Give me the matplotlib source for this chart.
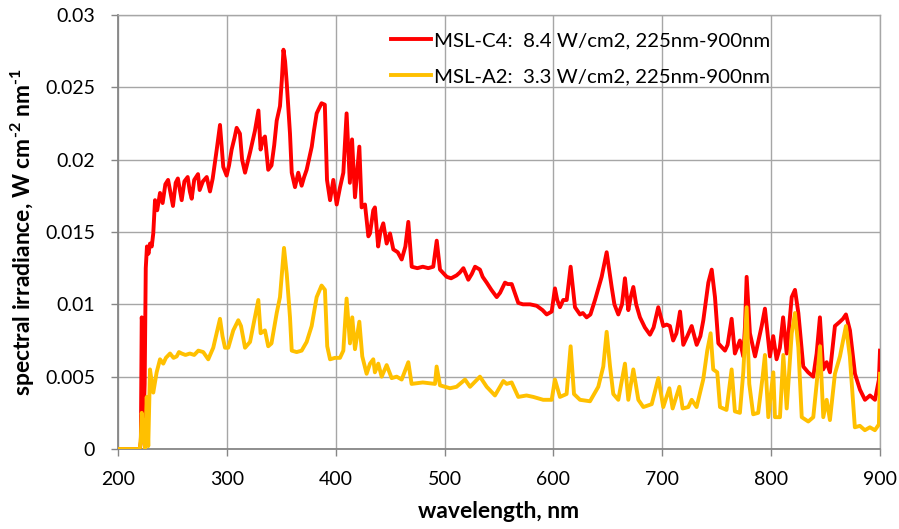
import matplotlib
matplotlib.use('Agg')
import matplotlib.pyplot as plt
import matplotlib.ticker as ticker

# ---------------------------------------------------------------------------
# Data
# ---------------------------------------------------------------------------
wl_c4 = [200, 220, 221, 221.8, 222.5, 223.5, 224.5, 225.5, 226.6, 228, 229.4, 231, 232.4, 234, 236,
         238.6, 241, 243.5, 246, 248, 250.5, 253, 255, 258.5, 261, 264, 266, 267.7, 270, 273.5,
         275, 278, 281.5, 284.5, 287, 290.7, 293.7, 296.7, 299.8, 302, 304.4, 307, 309, 312, 314,
         316.7, 319, 321.3, 325.8, 329, 331, 333, 335, 338, 341, 343.5, 345.8, 348.8, 350.5, 352,
         353.5, 355, 358, 359.6, 362.6, 365.6, 368.7, 371, 373.3, 378, 380, 382.5, 385, 387, 390,
         392, 394.8, 397.8, 400.9, 404, 407, 410, 413, 415, 417.7, 421.7, 423.8, 426.9, 430, 431.5,
         434.5, 436, 439, 441, 443.7, 446.8, 449.9, 452.9, 457, 460.6, 464, 466.7, 469.8, 475, 480,
         485, 489.6, 492.8, 495.8, 502, 506, 511, 514, 517.3, 521.8, 525, 528, 532.5, 535, 538.7,
         543, 547.9, 551, 555.5, 558, 561.7, 567.7, 572, 578.5, 584.6, 590, 593.8, 598.4, 601.4,
         603.5, 606, 609, 612.2, 615.8, 619.8, 624.4, 627, 630.5, 634, 638.2, 644.3, 648.9, 653.5,
         656, 659.6, 663, 665.7, 668.8, 671, 673.4, 676, 679.5, 684, 688.7, 692, 696.3, 700.9, 704,
         707, 710, 713, 716.3, 719.3, 723, 727, 731.6, 735, 737.7, 742.3, 745.4, 748.4, 751.5,
         757.6, 760, 763.7, 766.7, 771.3, 774.4, 776, 777.5, 780.5, 785.2, 791.3, 794.3, 798.9,
         801.9, 805, 808, 811, 814.3, 818.9, 821.9, 825, 829.5, 834, 838.7, 841.8, 844.8, 847.8,
         851, 854, 858.6, 863.2, 866, 868.7, 872.4, 877, 881.6, 886.2, 890.8, 895.4, 899, 900]
irr_c4 = [0, 0, 0.0005, 0.0091, 0.0085, 0.002, 0.0045, 0.0125, 0.014, 0.0135, 0.0142, 0.014, 0.0149,
          0.0172, 0.0165, 0.0177, 0.0170, 0.0183, 0.0186, 0.0178, 0.0168, 0.0184, 0.0187, 0.0172,
          0.0185, 0.0188, 0.0178, 0.0173, 0.0186, 0.0190, 0.0179, 0.0185, 0.0188, 0.0178, 0.0187,
          0.0207, 0.0224, 0.0195, 0.0189, 0.0196, 0.0207, 0.0215, 0.0222, 0.0218, 0.0200, 0.0191,
          0.0198, 0.0205, 0.0220, 0.0234, 0.0207, 0.0214, 0.0216, 0.0193, 0.0196, 0.0210, 0.0227,
          0.0237, 0.0255, 0.0276, 0.0268, 0.0253, 0.0218, 0.0191, 0.0181, 0.0191, 0.0182, 0.0188,
          0.0193, 0.0209, 0.0220, 0.0232, 0.0236, 0.0239, 0.0238, 0.0186, 0.0172, 0.0186, 0.0169,
          0.0181, 0.0191, 0.0232, 0.0184, 0.0214, 0.0174, 0.0209, 0.0167, 0.0169, 0.0147, 0.0149,
          0.0165, 0.0167, 0.0140, 0.0150, 0.0156, 0.0142, 0.0149, 0.0138, 0.0136, 0.0131, 0.0140,
          0.0157, 0.0126, 0.0125, 0.0126, 0.0125, 0.0126, 0.0144, 0.0124, 0.0119, 0.0118, 0.0120,
          0.0122, 0.0125, 0.0117, 0.0121, 0.0126, 0.0124, 0.0119, 0.0115, 0.0110, 0.0105, 0.0108,
          0.0115, 0.0114, 0.0114, 0.0101, 0.0100, 0.0100, 0.0099, 0.0096, 0.0093, 0.0095, 0.0111,
          0.0103, 0.0098, 0.0103, 0.0103, 0.0126, 0.0098, 0.0093, 0.0094, 0.0091, 0.0093, 0.0103,
          0.0119, 0.0136, 0.0112, 0.0100, 0.0093, 0.0100, 0.0118, 0.0096, 0.0105, 0.0112, 0.0100,
          0.0091, 0.0084, 0.0079, 0.0084, 0.0098, 0.0085, 0.0086, 0.0085, 0.0075, 0.0080, 0.0095,
          0.0072, 0.0078, 0.0085, 0.0072, 0.0078, 0.0089, 0.0115, 0.0124, 0.0105, 0.0073, 0.0068,
          0.0072, 0.0090, 0.0066, 0.0075, 0.0064, 0.0085, 0.0119, 0.0080, 0.0064, 0.0085, 0.0097,
          0.0064, 0.0078, 0.0062, 0.0070, 0.0091, 0.0066, 0.0105, 0.0110, 0.0094, 0.0057, 0.0053,
          0.0050, 0.0066, 0.0091, 0.0055, 0.0060, 0.0053, 0.0085, 0.0088, 0.0090, 0.0093, 0.0082,
          0.0052, 0.0041, 0.0034, 0.0037, 0.0034, 0.0048, 0.0068]

wl_a2 = [200, 220, 221, 221.8, 223, 224.8, 226.4, 227.8, 229.4, 232.4, 235.5, 238.6, 241.6, 244,
         247.8, 251, 253.9, 256, 258.5, 262, 266, 270, 273.8, 278.3, 282.9, 287.5, 290.6, 293.7,
         296, 298.3, 301.3, 305.9, 310.5, 313, 316.7, 321.3, 325.8, 328.9, 331, 335, 338, 341,
         345.8, 348.8, 352.5, 355, 358, 359.6, 364.1, 368.7, 373.3, 377.9, 382.5, 387, 390.1,
         392.2, 394.8, 399.3, 403.9, 407, 410, 413.1, 415.2, 417.7, 421.7, 424.4, 428.4, 431.5,
         434.5, 436, 439.1, 442.2, 446.8, 451.4, 456, 460.6, 466.7, 469.7, 480, 491.2, 492.7, 495.8,
         505, 511, 518.8, 523.4, 532.5, 538.7, 546.3, 554, 557, 561.6, 567.7, 575.3, 581.5, 590.6,
         598.4, 601.4, 606, 612.1, 615.8, 618.9, 624.4, 633.6, 641.2, 645.8, 648.9, 652, 655, 659.6,
         665.7, 668.8, 673.4, 678, 682.6, 690.3, 696.4, 700.9, 706.5, 709.5, 715.7, 718.7, 723.9,
         727, 731.5, 737.6, 741.3, 744.4, 746.8, 750.5, 753, 759, 763.7, 766.7, 771.3, 774.4, 777.5,
         779.9, 783.5, 788.1, 792.2, 794.3, 797.4, 802, 803.5, 808.1, 811.2, 814.3, 818.9, 821.9,
         825, 828.1, 834.1, 838.7, 841.8, 844.9, 847.9, 851, 854, 858.6, 863.2, 868.7, 872.3,
         876.9, 881.5, 886.1, 890.7, 895.3, 899, 900]
irr_a2 = [0, 0, 0.0008, 0.0025, 0.0012, 0, 0.0036, 0.0002, 0.0055, 0.0039, 0.0053, 0.0062, 0.0059,
          0.0063, 0.0066, 0.0063, 0.0064, 0.0067, 0.0066, 0.0065, 0.0066, 0.0065, 0.0068, 0.0067,
          0.0062, 0.0070, 0.0080, 0.0090, 0.0078, 0.0070, 0.0070, 0.0082, 0.0089, 0.0085, 0.0070,
          0.0074, 0.0091, 0.0103, 0.0080, 0.0082, 0.0071, 0.0073, 0.0094, 0.0105, 0.0139, 0.0121,
          0.0091, 0.0068, 0.0067, 0.0068, 0.0074, 0.0085, 0.0105, 0.0113, 0.0110, 0.0071, 0.0062,
          0.0063, 0.0063, 0.0068, 0.0104, 0.0073, 0.0091, 0.0069, 0.0088, 0.0064, 0.0052, 0.0059,
          0.0062, 0.0053, 0.0059, 0.0050, 0.0058, 0.0049, 0.0050, 0.0048, 0.0060, 0.0045, 0.0046,
          0.0045, 0.0057, 0.0044, 0.0042, 0.0043, 0.0048, 0.0043, 0.0050, 0.0043, 0.0037, 0.0047,
          0.0045, 0.0046, 0.0036, 0.0037, 0.0036, 0.0034, 0.0034, 0.0048, 0.0036, 0.0038, 0.0071,
          0.0038, 0.0034, 0.0033, 0.0043, 0.0057, 0.0081, 0.0057, 0.0038, 0.0034, 0.0059, 0.0034,
          0.0055, 0.0034, 0.0029, 0.0031, 0.0049, 0.0029, 0.0042, 0.0028, 0.0043, 0.0028, 0.0029,
          0.0034, 0.0029, 0.0048, 0.0068, 0.0080, 0.0055, 0.0053, 0.0029, 0.0027, 0.0055, 0.0026,
          0.0025, 0.0053, 0.0098, 0.0045, 0.0024, 0.0025, 0.0050, 0.0065, 0.0022, 0.0053, 0.0022,
          0.0022, 0.0065, 0.0028, 0.0080, 0.0094, 0.0070, 0.0022, 0.0019, 0.0022, 0.0045, 0.0071,
          0.0022, 0.0034, 0.0020, 0.0052, 0.0064, 0.0085, 0.0064, 0.0015, 0.0016, 0.0013, 0.0015,
          0.0013, 0.0017, 0.0052]

labels = ['MSL-C4:  8.4 W/cm2, 225nm-900nm', 'MSL-A2:  3.3 W/cm2, 225nm-900nm']
x_ticks = [200, 300, 400, 500, 600, 700, 800, 900]
y_ticks = [0, 0.005, 0.01, 0.015, 0.02, 0.025, 0.03]
y_tick_labels = ['0', '0.005', '0.01', '0.015', '0.02', '0.025', '0.03']

RED = '#FF0000'
GOLD = '#FFC000'
GRID = '#A6A6A6'
AXIS = '#868686'

plt.rcParams['font.family'] = ['Lato', 'DejaVu Sans']
plt.rcParams['mathtext.fontset'] = 'custom'
plt.rcParams['mathtext.rm'] = 'Lato:bold'
plt.rcParams['mathtext.default'] = 'rm'

fig = plt.figure(figsize=(8.99, 5.29), dpi=100)
ax = fig.add_axes([118 / 899, 80 / 529, 762 / 899, 434 / 529])

ax.plot(wl_c4, irr_c4, color=RED, linewidth=2.8, solid_joinstyle='round', label=labels[0], zorder=3)
ax.plot(wl_a2, irr_a2, color=GOLD, linewidth=2.8, solid_joinstyle='round', label=labels[1], zorder=4)

ax.set_xlim(200, 900)
ax.set_ylim(0, 0.03)
ax.set_xticks(x_ticks)
ax.set_yticks(y_ticks)
ax.set_yticklabels(y_tick_labels)

ax.grid(True, color=GRID, linewidth=1.0)
ax.set_axisbelow(True)
for side in ['top', 'right']:
    ax.spines[side].set_color(GRID)
    ax.spines[side].set_linewidth(1.0)
for side in ['left', 'bottom']:
    ax.spines[side].set_color(AXIS)
    ax.spines[side].set_linewidth(1.3)

ax.tick_params(axis='both', direction='out', length=5, width=1, color=AXIS,
               labelsize=14, labelcolor='#000000')
ax.tick_params(axis='x', pad=11)
ax.tick_params(axis='y', pad=11.5)

ax.set_xlabel('wavelength, nm', fontsize=16.5, fontweight='bold', labelpad=9)
ax.set_ylabel(r'spectral irradiance, W cm$^{\text{-2}}$ nm$^{\text{-1}}$', fontsize=16.5,
              fontweight='bold', labelpad=6)

# legend sits inside the plot area, no frame, gridlines show through
leg = ax.legend(loc='upper left', bbox_to_anchor=(0.334, 1.004), frameon=False,
                fontsize=14.7, handlelength=1.95, handletextpad=0.15, labelspacing=0.95)

fig.savefig('out.png', dpi=100)
